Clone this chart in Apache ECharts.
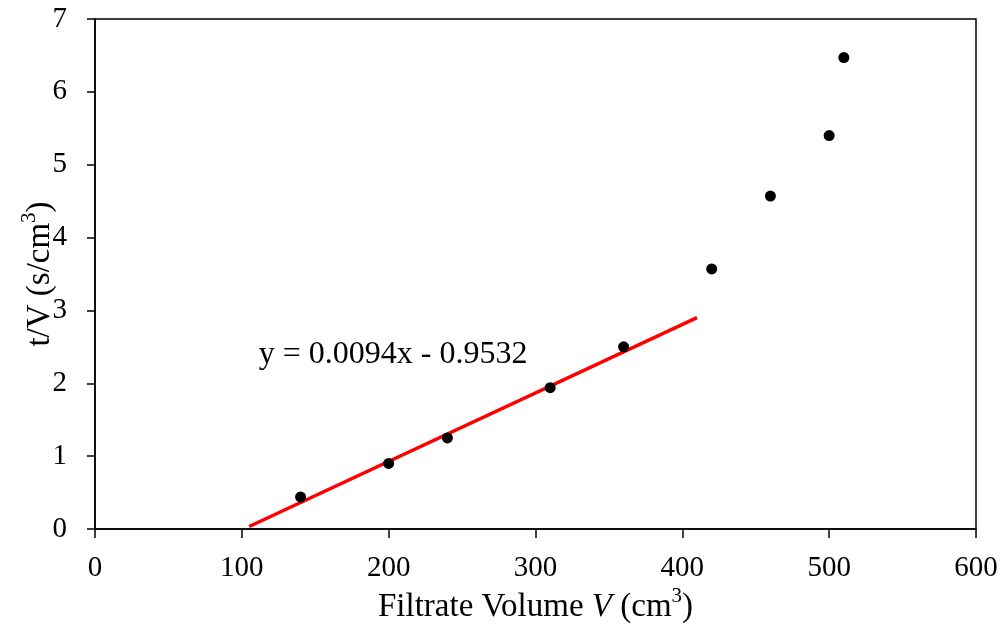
<!DOCTYPE html>
<html>
<head>
<meta charset="utf-8">
<script src="https://cdn.jsdelivr.net/npm/echarts@6/dist/echarts.min.js"></script>
<style>
  html, body { margin: 0; padding: 0; background: #fff; }
  #chart { width: 1003px; height: 630px; }
</style>
</head>
<body>
<div id="chart"></div>
<script>
// Filtration data: filtrate volume V (cm3) and t/V (s/cm3)
const volume = [140, 200, 240, 310, 360, 420, 460, 500, 510];
const tOverV = [0.44, 0.90, 1.25, 1.94, 2.50, 3.57, 4.57, 5.40, 6.47];

// Linear fit of the early, constant-pressure portion
const fitSlope = 0.0094;
const fitIntercept = -0.9532;
const fitRange = [105, 410];
const fitLabel = 'y = 0.0094x - 0.9532';
const fitLabelAt = [203, 2.39];

const xTicks = { min: 0, max: 600, interval: 100 };
const yTicks = { min: 0, max: 7, interval: 1 };

const FONT = '"Liberation Serif", "Times New Roman", serif';
const fitLine = fitRange.map(x => [x, fitSlope * x + fitIntercept]);

const titleRich = {
  n: { fontFamily: FONT, fontSize: 33, color: '#000', lineHeight: 38, verticalAlign: 'bottom' },
  i: { fontFamily: FONT, fontSize: 33, color: '#000', fontStyle: 'italic', lineHeight: 38, verticalAlign: 'bottom' },
  s: { fontFamily: FONT, fontSize: 21, color: '#000', lineHeight: 34, verticalAlign: 'top' }
};

const chart = echarts.init(document.getElementById('chart'));
chart.setOption({
  backgroundColor: '#fff',
  animation: false,
  grid: {
    left: 95, right: 27, top: 19, bottom: 101,
    outerBoundsMode: 'none',
    containLabel: false,
    show: true, borderColor: '#000', borderWidth: 1.5
  },
  xAxis: {
    type: 'value',
    min: xTicks.min, max: xTicks.max, interval: xTicks.interval,
    splitLine: { show: false },
    axisLine: { lineStyle: { color: '#000', width: 1.5 } },
    axisTick: { show: true, inside: false, length: 9, lineStyle: { color: '#000', width: 1.5 } },
    axisLabel: { color: '#000', fontFamily: FONT, fontSize: 29, margin: 25 },
    name: '{n|Filtrate Volume }{i|V}{n| (cm}{s|3}{n|)}',
    nameLocation: 'middle',
    nameGap: 57,
    nameMoveOverlap: false,
    nameTextStyle: { rich: titleRich }
  },
  yAxis: {
    type: 'value',
    min: yTicks.min, max: yTicks.max, interval: yTicks.interval,
    splitLine: { show: false },
    axisLine: { lineStyle: { color: '#000', width: 1.5 } },
    axisTick: { show: true, inside: false, length: 8, lineStyle: { color: '#000', width: 1.5 } },
    axisLabel: { color: '#000', fontFamily: FONT, fontSize: 29, margin: 28 },
    name: '{n|t/V (s/cm}{s|3}{n|)}',
    nameLocation: 'middle',
    nameGap: 38,
    nameRotate: 90,
    nameMoveOverlap: false,
    nameTextStyle: { rich: titleRich }
  },
  series: [
    {
      name: 'fit',
      type: 'line',
      data: fitLine,
      symbol: 'none',
      lineStyle: { color: '#ff0000', width: 3.5 },
      z: 2,
      markPoint: {
        symbol: 'circle',
        symbolSize: 0,
        data: [{ coord: fitLabelAt, value: fitLabel }],
        label: {
          show: true, position: 'inside',
          formatter: fitLabel,
          color: '#000', fontFamily: FONT, fontSize: 32
        }
      }
    },
    {
      name: 'data',
      type: 'scatter',
      data: volume.map((v, i) => [v, tOverV[i]]),
      symbol: 'circle',
      symbolSize: 11,
      itemStyle: { color: '#000', opacity: 1 },
      z: 3
    }
  ]
});
</script>
</body>
</html>
